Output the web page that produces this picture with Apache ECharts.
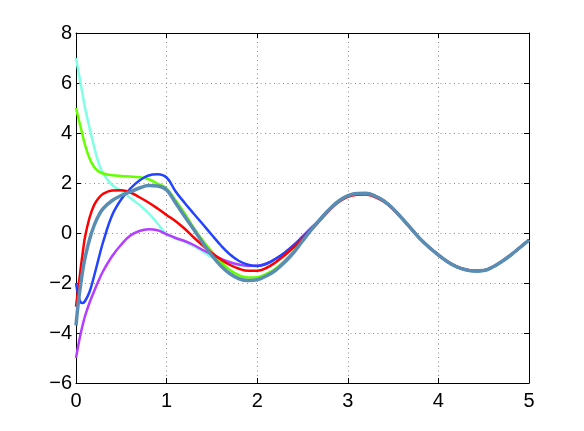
<!DOCTYPE html>
<html>
<head>
<meta charset="utf-8">
<script src="https://cdn.jsdelivr.net/npm/echarts@6/dist/echarts.min.js"></script>
<style>
  html, body { margin: 0; padding: 0; background: #fff; }
  #chart { width: 584px; height: 431px; }
</style>
</head>
<body>
<div id="chart"></div>
<script>
// sample positions along x (denser near 0 where the curves are steep)
const xs = [0, 0.025, 0.05, 0.075, 0.1, 0.15, 0.2, 0.25, 0.3, 0.4, 0.5, 0.6, 0.7, 0.8, 0.9,
  1.0, 1.1, 1.2, 1.3, 1.4, 1.5, 1.6, 1.7, 1.8, 1.9, 2.0, 2.1, 2.2, 2.3, 2.4, 2.5, 2.6,
  2.7, 2.8, 2.9, 3.0, 3.1, 3.2, 3.3, 3.4, 3.5, 3.6, 3.7, 3.8, 3.9, 4.0, 4.1, 4.2, 4.3,
  4.4, 4.5, 4.6, 4.7, 4.8, 4.9, 5.0];

const cyanY = [7.0, 6.5, 6.0, 5.5, 5.0, 4.2, 3.45, 2.8, 2.38, 1.92, 1.68, 1.4, 1.12, 0.8, 0.38,
  -0.05, -0.22, -0.35, -0.52, -0.74, -0.97, -1.13, -1.24, -1.3, -1.32, -1.31, -1.22, -1.04, -0.8, -0.5, -0.14, 0.22,
  0.57, 0.96, 1.28, 1.49, 1.58, 1.59, 1.48, 1.28, 0.97, 0.58, 0.17, -0.24, -0.58, -0.88, -1.15, -1.35, -1.47,
  -1.52, -1.5, -1.36, -1.14, -0.88, -0.58, -0.28];

const greenY = [5.0, 4.62, 4.25, 3.88, 3.52, 2.98, 2.64, 2.46, 2.38, 2.31, 2.28, 2.26, 2.23, 2.15, 1.98,
  1.78, 1.3, 0.78, 0.2, -0.3, -0.75, -1.16, -1.48, -1.69, -1.78, -1.77, -1.64, -1.43, -1.12, -0.75, -0.3, 0.14,
  0.57, 0.96, 1.28, 1.49, 1.58, 1.59, 1.48, 1.28, 0.97, 0.58, 0.17, -0.24, -0.58, -0.88, -1.15, -1.35, -1.47,
  -1.52, -1.5, -1.36, -1.14, -0.88, -0.58, -0.28];

const purpleY = [-5.0, -4.5, -4.05, -3.66, -3.32, -2.78, -2.33, -1.9, -1.52, -0.92, -0.46, -0.1, 0.08, 0.15, 0.11,
  -0.05, -0.2, -0.32, -0.48, -0.68, -0.86, -1.03, -1.17, -1.26, -1.31, -1.31, -1.22, -1.04, -0.8, -0.5, -0.14, 0.22,
  0.57, 0.96, 1.28, 1.49, 1.58, 1.59, 1.48, 1.28, 0.97, 0.58, 0.17, -0.24, -0.58, -0.88, -1.15, -1.35, -1.47,
  -1.52, -1.5, -1.36, -1.14, -0.88, -0.58, -0.28];

const blueY = [-2.0, -2.5, -2.77, -2.8, -2.72, -2.35, -1.72, -1.02, -0.35, 0.72, 1.35, 1.78, 2.1, 2.3, 2.35,
  2.22, 1.66, 1.2, 0.77, 0.35, -0.08, -0.5, -0.86, -1.12, -1.27, -1.32, -1.24, -1.04, -0.8, -0.5, -0.17, 0.18,
  0.57, 0.96, 1.28, 1.49, 1.58, 1.59, 1.48, 1.28, 0.97, 0.58, 0.17, -0.24, -0.58, -0.88, -1.15, -1.35, -1.47,
  -1.52, -1.5, -1.36, -1.14, -0.88, -0.58, -0.28];

const redY = [-2.95, -2.22, -1.47, -0.77, -0.15, 0.62, 1.12, 1.4, 1.57, 1.7, 1.71, 1.62, 1.43, 1.22, 0.98,
  0.72, 0.47, 0.17, -0.18, -0.5, -0.8, -1.06, -1.28, -1.43, -1.51, -1.51, -1.4, -1.18, -0.9, -0.58, -0.22, 0.14,
  0.53, 0.92, 1.24, 1.45, 1.53, 1.54, 1.44, 1.25, 0.95, 0.57, 0.16, -0.24, -0.58, -0.88, -1.14, -1.34, -1.46,
  -1.51, -1.49, -1.35, -1.13, -0.87, -0.58, -0.28];

const steelY = [-3.7, -2.8, -2.1, -1.48, -0.98, -0.25, 0.3, 0.7, 0.98, 1.3, 1.5, 1.65, 1.8, 1.9, 1.88,
  1.72, 1.2, 0.66, 0.14, -0.4, -0.9, -1.32, -1.63, -1.83, -1.9, -1.87, -1.72, -1.5, -1.18, -0.79, -0.32, 0.14,
  0.57, 0.96, 1.28, 1.49, 1.58, 1.59, 1.48, 1.28, 0.97, 0.58, 0.17, -0.24, -0.58, -0.88, -1.15, -1.35, -1.47,
  -1.52, -1.5, -1.36, -1.14, -0.88, -0.58, -0.28];

// draw order matters: last one ends up on top
const curves = [
  { ys: cyanY, color: '#80ffe4', width: 2.5 },
  { ys: greenY, color: '#66ff00', width: 2.5 },
  { ys: purpleY, color: '#b53dff', width: 2.5 },
  { ys: blueY, color: '#2244ff', width: 2.5 },
  { ys: redY, color: '#ff0000', width: 2.5 },
  { ys: steelY, color: '#5a8db4', width: 3.5 }
];

const chart = echarts.init(document.getElementById('chart'), null, { renderer: 'canvas' });

const font = { fontFamily: '"Liberation Sans", Arial, sans-serif', fontSize: 20, color: '#000' };
const minus = v => String(v).replace('-', '\u2212');
const gridLine = { show: true, lineStyle: { type: [1, 3.5], color: '#8a8a8a', width: 1 } };
const tick = { show: true, inside: true, length: 5, lineStyle: { color: '#000' } };
const line = { show: true, onZero: false, lineStyle: { color: '#000', width: 1 } };

const option = {
  animation: false,
  backgroundColor: '#fff',
  grid: { left: 76, right: 55, top: 33, bottom: 48, outerBoundsMode: 'none' },
  xAxis: [
    { type: 'value', min: 0, max: 5, interval: 1, position: 'bottom',
      axisLine: line, axisTick: tick, splitLine: gridLine,
      axisLabel: Object.assign({ margin: 8, formatter: minus }, font) },
    { type: 'value', min: 0, max: 5, interval: 1, position: 'top',
      axisLine: line, axisTick: tick, splitLine: { show: false }, axisLabel: { show: false } }
  ],
  yAxis: [
    { type: 'value', min: -6, max: 8, interval: 2, position: 'left',
      axisLine: line, axisTick: tick, splitLine: gridLine,
      axisLabel: Object.assign({ margin: 4, formatter: minus }, font) },
    { type: 'value', min: -6, max: 8, interval: 2, position: 'right',
      axisLine: line, axisTick: tick, splitLine: { show: false }, axisLabel: { show: false } }
  ],
  series: curves.map(c => ({
    type: 'line',
    data: xs.map((x, i) => [x, c.ys[i]]),
    showSymbol: false,
    smooth: 0.4,
    lineStyle: { color: c.color, width: c.width },
    itemStyle: { color: c.color }
  }))
};

chart.setOption(option);
</script>
</body>
</html>
